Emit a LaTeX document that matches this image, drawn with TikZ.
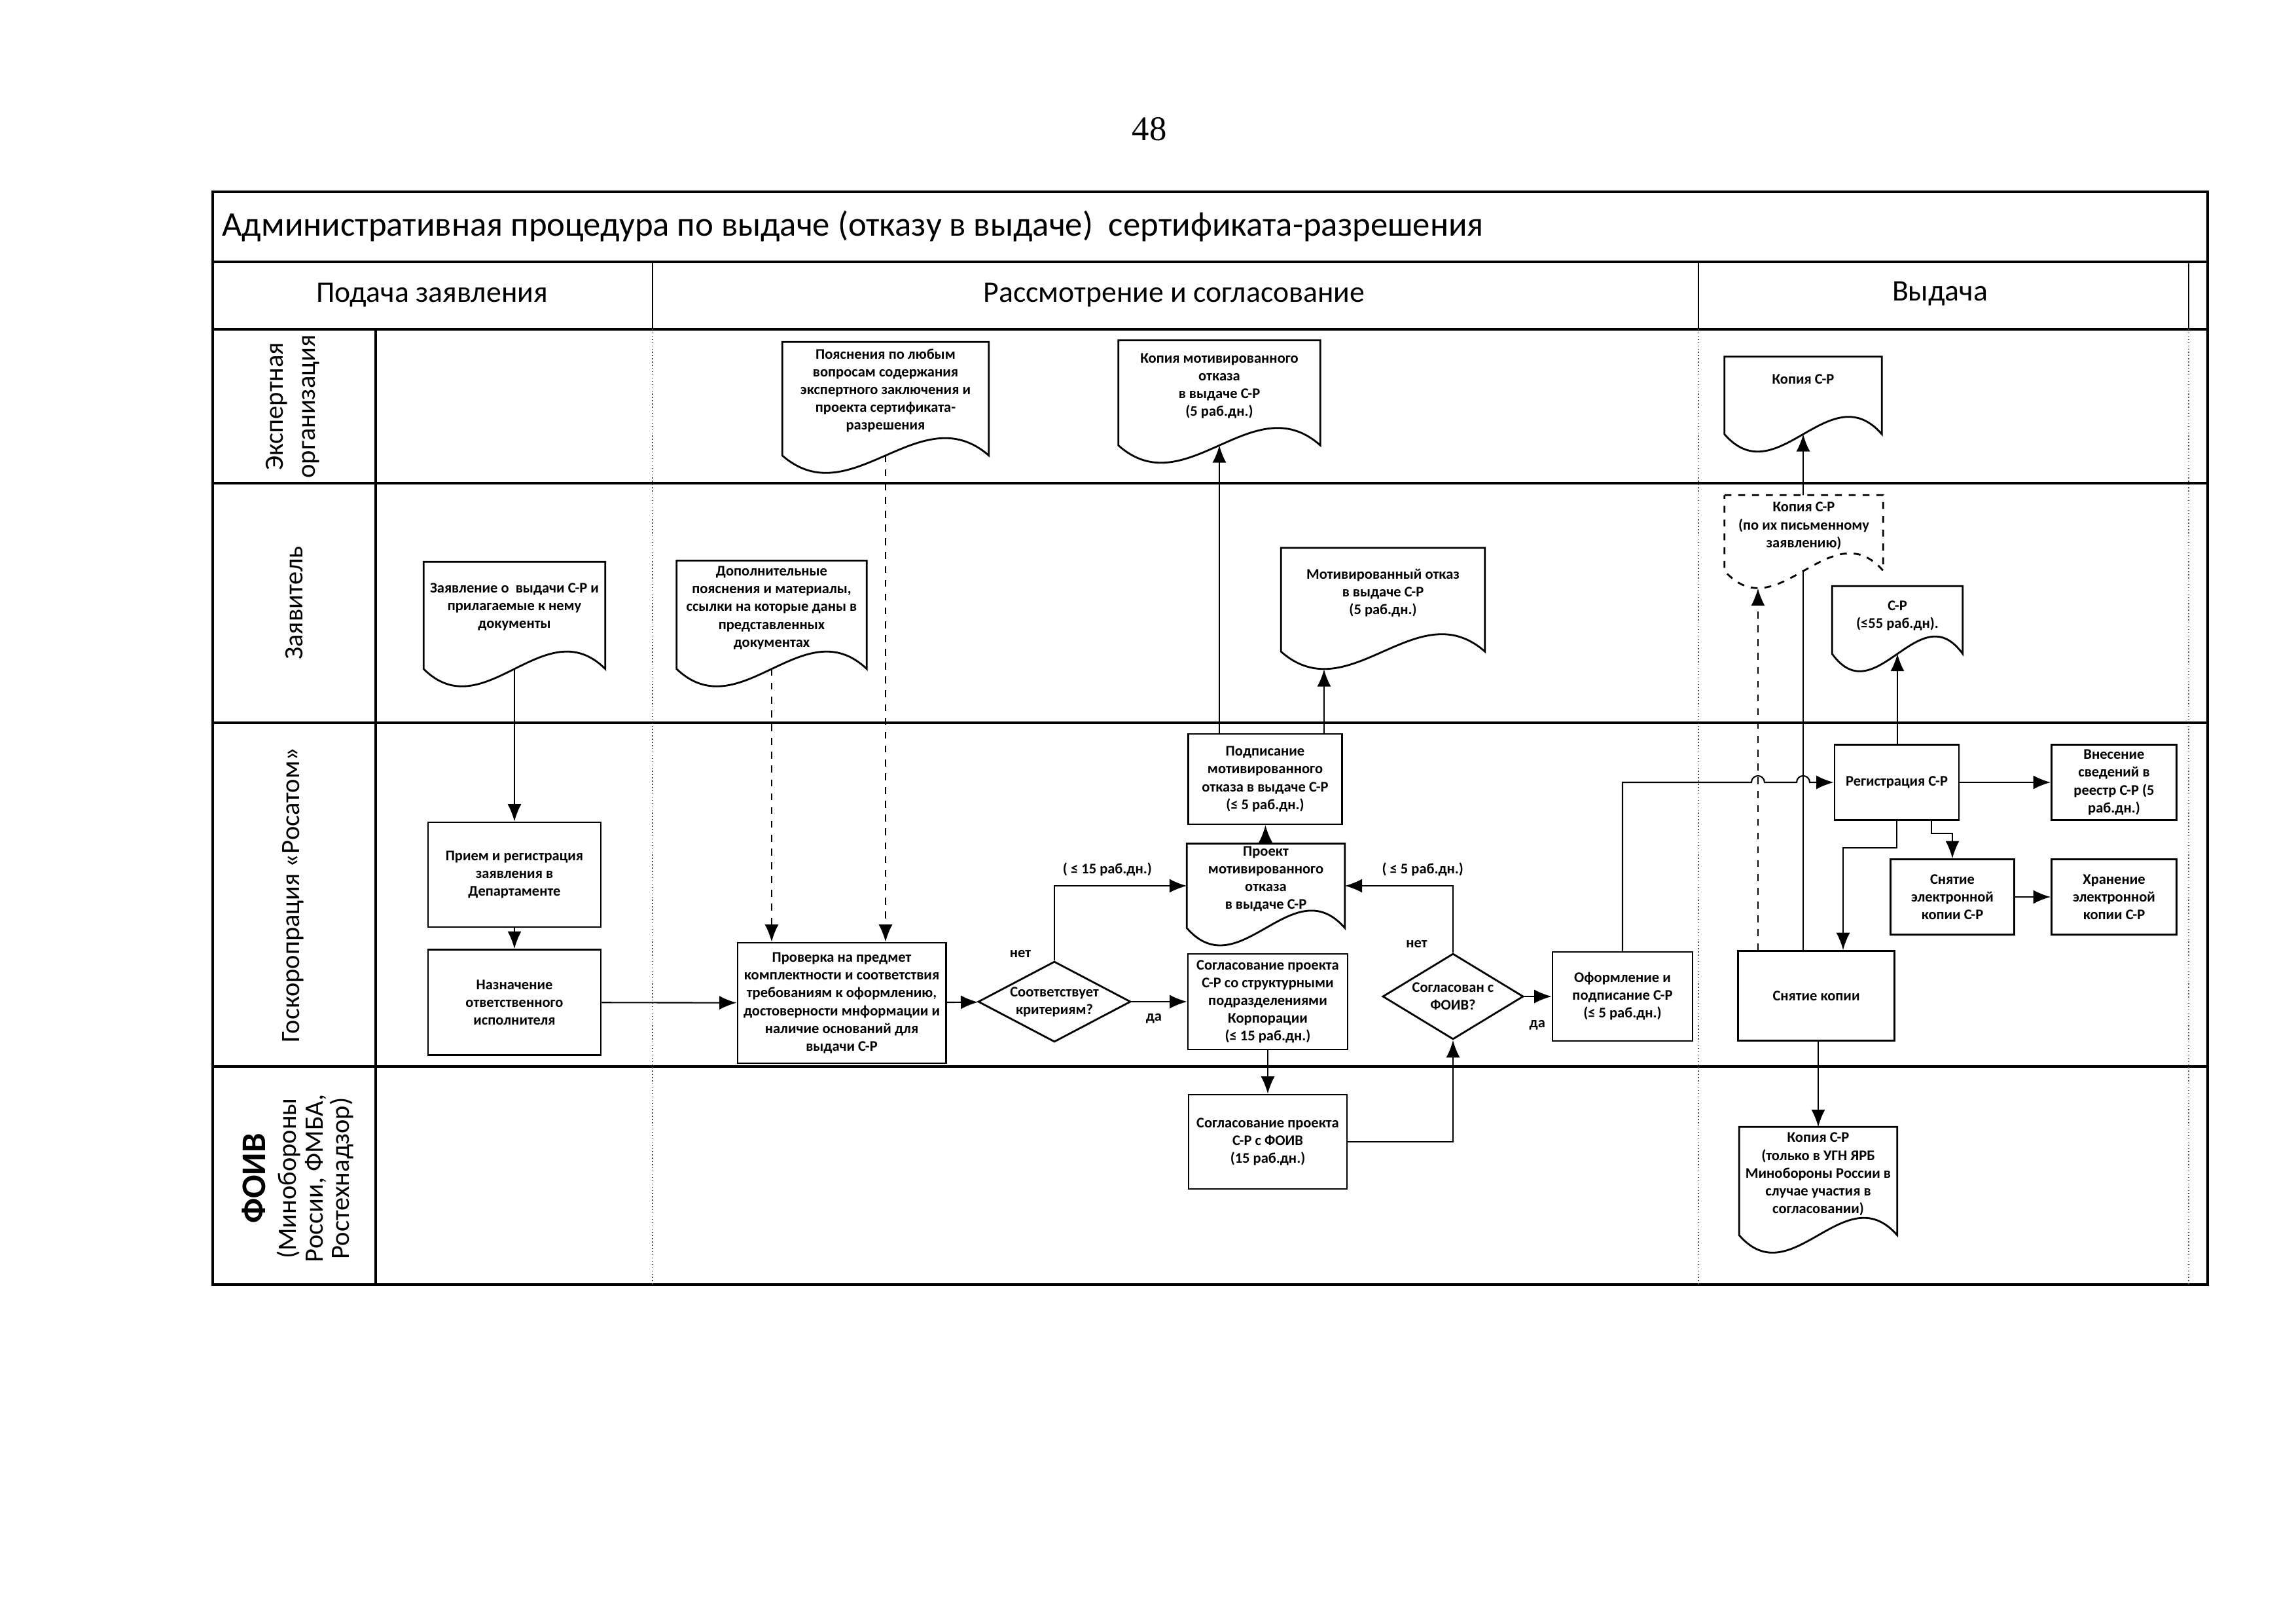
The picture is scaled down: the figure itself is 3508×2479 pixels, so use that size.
\documentclass[tikz,border=0pt]{standalone}
\usepackage{fontspec}
\setmainfont{Carlito}
\newfontfamily\pagenumfont{Liberation Serif}
\usetikzlibrary{shapes.geometric,arrows.meta,calc,positioning,backgrounds}

\tikzset{
  small/.style={font=\bfseries\fontsize{6.4}{7.7}\selectfont},
  box/.style={rectangle, draw, line width=0.8pt, fill=white, align=center, inner sep=1pt, small},
  doc/.style={rectangle, align=center, inner sep=1pt, text depth=7pt, small},
  decision/.style={diamond, draw, line width=0.8pt, fill=white, align=center, inner sep=0pt, aspect=1.9, small},
  note/.style={inner sep=1pt, small},
  lane/.style={rotate=90, align=center, font=\fontsize{11.5}{14}\selectfont},
  head/.style={font=\fontsize{13}{15}\selectfont},
  conn/.style={line width=0.6pt, -{Latex[length=7.5pt,width=6pt]}},
  frame/.style={line width=1.2pt},
  lanerule/.style={line width=0.9pt},
  colrule/.style={line width=0.4pt, densely dotted, black!70}
}
\newcommand{\docframe}[2][]{%
  \draw[line width=0.8pt, fill=white, #1] (#2.north west) -- (#2.north east) -- (#2.south east)
    .. controls ($(#2.south east)!0.333!(#2.south west)+(0,-92)$) and ($(#2.south east)!0.667!(#2.south west)+(0,92)$) .. (#2.south west) -- cycle;}
\newcommand{\trough}[1]{\coordinate (#1-tr) at ($(#1.south west)!0.211!(#1.south east)+(0,27)$);}

\begin{document}
\begin{tikzpicture}[x=0.01cm, y=-0.01cm]
  \useasboundingbox (0,0) rectangle (3508,2479);

  \node[font=\pagenumfont\fontsize{15}{18}\selectfont] (pagenum) at (1756,197) {48};
  \node[anchor=west, font=\fontsize{15}{17}\selectfont] (title) at (327,346)
    {Административная процедура по выдаче (отказу в выдаче) \ сертификата-разрешения};
  \node[head] (hdr1) at (660,451) {Подача заявления};
  \node[head] (hdr2) at (1794,451) {Рассмотрение и согласование};
  \node[head] (hdr3) at (2964,449) {Выдача};

  \node[lane] (lane1) at (447,621) {Экспертная\\организация};
  \node[lane] (lane2) at (450,921) {Заявитель};
  \node[lane] (lane3) at (448,1367) {Госкоропрация «Росатом»};
  \node[lane, font=\fontsize{11.5}{11.4}\selectfont] (lane4) at (455,1800)
    {{\fontsize{15}{18}\selectfont\bfseries ФОИВ}\\[2pt](Минобороны\\России, ФМБА,\\Ростехнадзор)};

  % Подача заявления
  \node[doc, text depth=8.5pt, minimum width=2.76cm, minimum height=1.62cm] (zayav) at (786,940)
    {Заявление о \ выдачи С-Р и\\прилагаемые к нему\\документы};
  \node[box, minimum width=2.64cm, minimum height=1.6cm] (priem) at (786,1336)
    {Прием и регистрация\\заявления в\\Департаменте};
  \node[box, minimum width=2.64cm, minimum height=1.61cm] (naznach) at (786,1531)
    {Назначение\\ответственного\\исполнителя};

  % Рассмотрение и согласование
  \node[doc, minimum width=2.89cm, minimum height=1.64cm] (dop) at (1179,939)
    {Дополнительные\\пояснения и материалы,\\ссылки на которые даны в\\представленных\\документах};
  \node[doc, text depth=8pt, minimum width=3.14cm, minimum height=1.72cm] (poyasn) at (1353,609)
    {Пояснения по любым\\вопросам содержания\\экспертного заключения и\\проекта сертификата-\\разрешения};
  \node[box, minimum width=3.18cm, minimum height=1.84cm] (proverka) at (1286,1532)
    {Проверка на предмет\\комплектности и соответствия\\требованиям к оформлению,\\достоверности мнформации и\\наличие оснований для\\выдачи С-Р};
  \node[decision, minimum width=2.33cm, minimum height=1.23cm] (crit) at (1611,1530)
    {Соответствует\\критериям?};
  \node[doc, minimum width=3.07cm, minimum height=1.59cm] (kopmot) at (1863,600)
    {Копия мотивированного\\отказа\\в выдаче С-Р\\(5 раб.дн.)};
  \node[doc, minimum width=3.1cm, minimum height=1.57cm] (mototk) at (2113,916)
    {Мотивированный отказ\\в выдаче С-Р\\(5 раб.дн.)};
  \node[box, minimum width=2.35cm, minimum height=1.38cm] (podpis) at (1933,1190)
    {Подписание\\мотивированного\\отказа в выдаче С-Р\\(≤ 5 раб.дн.)};
  \node[doc, minimum width=2.4cm, minimum height=1.23cm] (proekt) at (1934,1353)
    {Проект\\мотивированного\\отказа\\в выдаче С-Р};
  \node[box, minimum width=2.44cm, minimum height=1.46cm] (soglstr) at (1937,1530)
    {Согласование проекта\\С-Р со структурными\\подразделениями\\Корпорации\\(≤ 15 раб.дн.)};
  \node[box, minimum width=2.42cm, minimum height=1.44cm] (soglfoiv) at (1937,1744)
    {Согласование проекта\\С-Р с ФОИВ\\(15 раб.дн.)};
  \node[decision, minimum width=2.15cm, minimum height=1.31cm] (foivq) at (2220,1522)
    {Согласован с\\ФОИВ?};
  \node[box, minimum width=2.14cm, minimum height=1.36cm] (oform) at (2479,1522)
    {Оформление и\\подписание С-Р\\(≤ 5 раб.дн.)};

  % Выдача
  \node[doc, minimum width=2.39cm, minimum height=1.17cm, text depth=14pt] (kopexp) at (2755,604)
    {Копия С-Р};
  \node[doc, minimum width=2.41cm, minimum height=1.14cm] (kopzav) at (2756,814)
    {Копия С-Р\\(по их письменному\\заявлению)};
  \node[doc, text depth=5pt, minimum width=1.98cm, minimum height=1.02cm] (srdoc) at (2899,947)
    {С-Р\\(≤55 раб.дн).};
  \node[box, minimum width=1.9cm, minimum height=1.15cm] (regist) at (2898,1195)
    {Регистрация С-Р};
  \node[box, minimum width=1.91cm, minimum height=1.15cm] (vnesen) at (3230,1195)
    {Внесение\\сведений в\\реестр С-Р (5\\раб.дн.)};
  \node[box, minimum width=1.89cm, minimum height=1.15cm] (snyatel) at (2983,1370)
    {Снятие\\электронной\\копии С-Р};
  \node[box, minimum width=1.91cm, minimum height=1.15cm] (hranen) at (3230,1370)
    {Хранение\\электронной\\копии С-Р};
  \node[box, minimum width=2.39cm, minimum height=1.37cm] (snyatkop) at (2775,1521)
    {Снятие копии};
  \node[doc, minimum width=2.4cm, minimum height=1.64cm] (kopfoiv) at (2778,1804)
    {Копия С-Р\\(только в УГН ЯРБ\\Минобороны России в\\случае участия в\\согласовании)};

  \trough{mototk}
  \trough{kopzav}

  \node[note, above left=0pt and 9pt of crit.north] (no1) {нет};
  \node[note, below right=4pt and 5pt of crit.east] (yes1) {да};
  \node[note, above left=1pt and 10pt of foivq.north] (no2) {нет};
  \node[note, below right=9pt and 1pt of foivq.east] (yes2) {да};

  \begin{scope}[on background layer]
    \draw[frame] (325,293) rectangle (3373,1962);
    \draw[frame] (325,400) -- (3373,400) (325,503) -- (3373,503) (574,503) -- (574,1962);
    \draw[lanerule] (325,738) -- (3373,738) (325,1104) -- (3373,1104) (325,1629) -- (3373,1629);
    \draw[line width=0.5pt] (997,400) -- (997,503) (2595,400) -- (2595,503) (3344,400) -- (3344,503);
    \draw[colrule] (997,503) -- (997,1962) (2595,503) -- (2595,1962) (3344,503) -- (3344,1962);

    \draw[conn] (zayav.south) -- (priem.north);
    \draw[conn, dashed] (priem) -- (naznach);
    \draw[conn] (naznach) -- (proverka);
    \draw[conn, dashed] (dop.south) -- (dop.south |- proverka.north);
    \draw[conn, dashed] (poyasn.south) -- (poyasn.south |- proverka.north);
    \draw[conn] (proverka) -- (crit);
    \draw[conn] (crit.north) |- node[note, pos=0.7, above=3pt] (d15) {( ≤ 15 раб.дн.)} (proekt.west);
    \draw[conn] (crit) -- (soglstr);
    \draw[conn] (soglstr.south) -- (soglstr.south |- soglfoiv.north);
    \draw[conn] (proekt) -- (podpis);
    \draw[conn] (kopmot.south |- podpis.north) -- (kopmot.south);
    \draw[conn] (mototk-tr |- podpis.north) -- (mototk-tr);
    \draw[conn] (soglfoiv.east) -| (foivq.south);
    \draw[conn] (foivq.north) |- node[note, pos=0.64, above=3pt] (d5) {( ≤ 5 раб.дн.)} (proekt.east);
    \draw[conn] (foivq) -- (oform);
    \draw[conn] (oform.north) |- ($(kopzav-tr |- regist.west)+(-10,0)$)
      arc[start angle=180, end angle=0, radius=0.1cm]
      -- ($(kopexp.south |- regist.west)+(-10,0)$)
      arc[start angle=180, end angle=0, radius=0.1cm] -- (regist.west);
    \draw[conn] (regist) -- (vnesen);
    \draw[conn] (srdoc.south |- regist.north) -- (srdoc.south);
    \draw[conn] ($(regist.south)+(53,0)$) -- ++(0,19) -| (snyatel.north);
    \draw[conn] (regist.south) -- ++(0,41) -| ($(snyatkop.north)+(41,0)$);
    \draw[conn] (snyatel) -- (hranen);
    \draw[conn, dashed] (kopzav-tr |- snyatkop.north) -- (kopzav-tr);
    \draw[conn] (kopexp.south |- snyatkop.north) -- (kopexp.south);
    \draw[conn] (kopfoiv.north |- snyatkop.south) -- (kopfoiv.north);

    \docframe{zayav}
    \docframe{dop}
    \docframe{poyasn}
    \docframe{kopmot}
    \docframe{mototk}
    \docframe{proekt}
    \docframe{kopexp}
    \docframe[dashed]{kopzav}
    \docframe{srdoc}
    \docframe{kopfoiv}
  \end{scope}
\end{tikzpicture}
\end{document}
